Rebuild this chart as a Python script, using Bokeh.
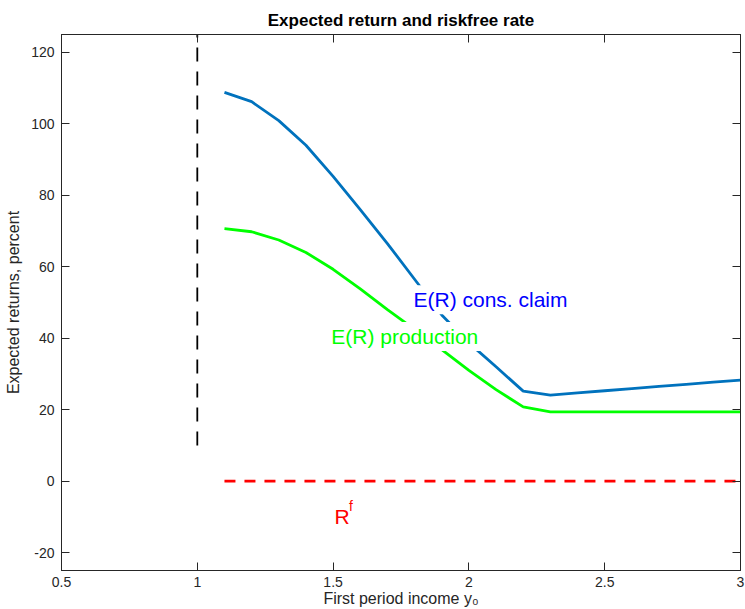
from bokeh.plotting import figure
from bokeh.models import Range1d, FixedTicker, LinearAxis, Label
from bokeh.embed import file_html
from bokeh.resources import INLINE

# ---- data ----
y0 = [1.1, 1.2, 1.3, 1.4, 1.5, 1.6, 1.7, 1.8, 1.9, 2.0,
      2.1, 2.2, 2.3, 2.4, 2.5, 2.6, 2.7, 2.8, 2.9, 3.0]
er_claim = [108.8, 106.2, 100.9, 94.0, 85.3, 76.0, 66.5, 56.5, 46.5, 38.7,
            32.0, 25.2, 24.1, 24.7, 25.3, 25.9, 26.5, 27.1, 27.7, 28.3]
er_prod = [70.7, 69.8, 67.5, 64.0, 59.3, 53.8, 48.0, 42.5, 36.8, 31.0,
           25.6, 20.8, 19.4, 19.4, 19.4, 19.4, 19.4, 19.4, 19.4, 19.4]
rf = [0.0] * 20
vline_x = [1.0, 1.0]
vline_y = [10.0, 125.0]
x_ticks = [0.5, 1, 1.5, 2, 2.5, 3]
x_tick_labels = ["0.5", "1", "1.5", "2", "2.5", "3"]
y_ticks = [-20, 0, 20, 40, 60, 80, 100, 120]
y_tick_labels = ["-20", "0", "20", "40", "60", "80", "100", "120"]

FONT = "Liberation Sans"
AX = "#262626"

p = figure(width=745, height=609, output_backend="svg", toolbar_location=None,
           x_range=Range1d(0.5, 3.0), y_range=Range1d(-25, 125),
           min_border_left=61, min_border_right=5, min_border_top=34, min_border_bottom=39,
           title="Expected return and riskfree rate")
p.title.text_font = FONT
p.title.text_font_size = "17px"
p.title.text_font_style = "bold"
p.title.text_color = "black"
p.title.align = "center"
p.grid.visible = False
p.outline_line_color = AX
p.outline_line_width = 1
p.background_fill_color = "white"
p.border_fill_color = "white"

for ax in (p.xaxis[0], p.yaxis[0]):
    ax.axis_line_color = AX
    ax.major_tick_line_color = AX
    ax.major_tick_in = 8
    ax.major_tick_out = 0
    ax.minor_tick_line_color = None
    ax.major_label_text_font = FONT
    ax.major_label_text_font_size = "14px"
    ax.major_label_text_color = AX
    ax.axis_label_text_font = FONT
    ax.axis_label_text_font_size = "16px"
    ax.axis_label_text_font_style = "normal"
    ax.axis_label_text_color = AX

p.xaxis[0].ticker = FixedTicker(ticks=x_ticks)
p.yaxis[0].ticker = FixedTicker(ticks=y_ticks)
p.xaxis[0].major_label_overrides = dict(zip(x_ticks, x_tick_labels))
p.yaxis[0].major_label_overrides = dict(zip(y_ticks, y_tick_labels))
p.xaxis[0].axis_label = "First period income y\u2080"
p.yaxis[0].axis_label = "Expected returns, percent"
p.xaxis[0].major_label_standoff = 6
p.yaxis[0].major_label_standoff = 7
p.xaxis[0].axis_label_standoff = 0
p.yaxis[0].axis_label_standoff = 6

# box ticks on top and right (no labels)
top = LinearAxis(ticker=FixedTicker(ticks=x_ticks), major_label_text_font_size="0px",
                 major_label_text_color=None,
                 major_label_standoff=0, major_tick_in=8, major_tick_out=0,
                 minor_tick_line_color=None, axis_line_color=AX, major_tick_line_color=AX)
right = LinearAxis(ticker=FixedTicker(ticks=y_ticks), major_label_text_font_size="0px",
                   major_label_text_color=None,
                   major_label_standoff=0, major_tick_in=8, major_tick_out=0,
                   minor_tick_line_color=None, axis_line_color=AX, major_tick_line_color=AX)
p.add_layout(top, "above")
p.add_layout(right, "right")

# lines
p.line(vline_x, vline_y, line_color="black", line_width=1.8, line_dash="14 10")
p.line(y0, er_claim, line_color="#0072BD", line_width=2.8)
p.line(y0, er_prod, line_color="#00FF00", line_width=2.8)
p.line(y0, rf, line_color="#FF0000", line_width=2.6, line_dash="11 9")

# text labels
lab1 = Label(x=1.785, y=50.8, text="E(R) cons. claim", text_color="#0000FF",
             text_font=FONT, text_font_size="21px", text_baseline="alphabetic",
             background_fill_color="white", padding=3)
lab2 = Label(x=1.482, y=40.5, text="E(R) production", text_color="#00FF00",
             text_font=FONT, text_font_size="21px", text_baseline="alphabetic",
             background_fill_color="white", padding=3)
lab3 = Label(x=1.505, y=-9.8, text="R", text_color="#FF0000",
             text_font=FONT, text_font_size="21px", text_baseline="alphabetic")
lab4 = Label(x=1.559, y=-7.0, text="f", text_color="#FF0000",
             text_font=FONT, text_font_size="14px", text_baseline="alphabetic")
for l in (lab1, lab2, lab3, lab4):
    p.add_layout(l)

open("out.html", "w").write(file_html(p, INLINE))
